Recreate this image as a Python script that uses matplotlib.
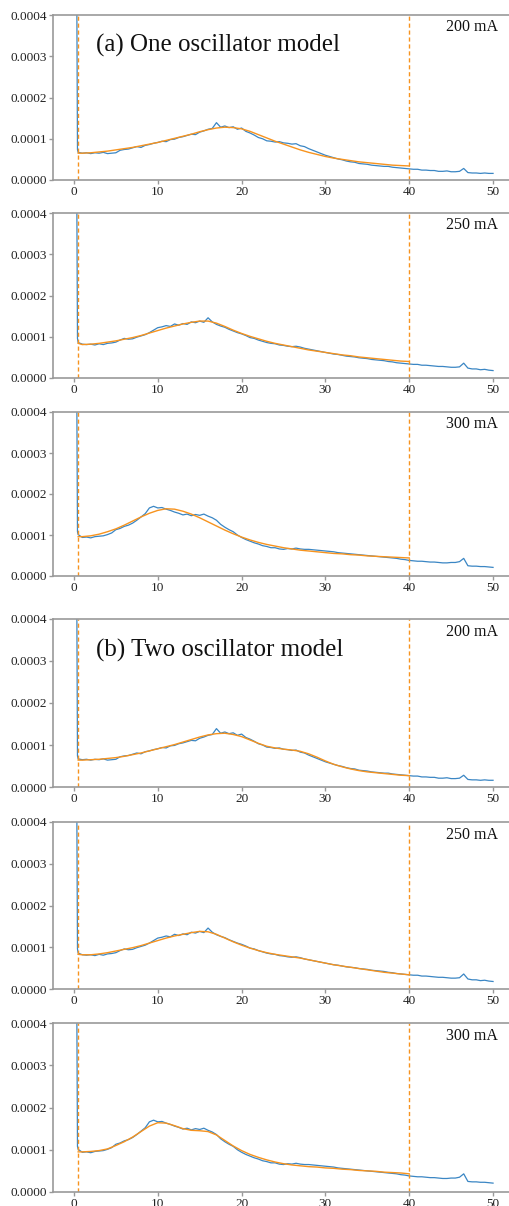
import numpy as np
import matplotlib
matplotlib.use('Agg')
import matplotlib.pyplot as plt
from matplotlib.ticker import FormatStrFormatter

plt.rcParams['font.family'] = ['Liberation Serif', 'DejaVu Serif']

# measured spectra (units of 1e-5), x from 0.5 to 50 in steps of 0.5
x_meas = np.arange(1, 101) * 0.5
# start of the trace: the sharp spike near zero
x_spike = [0.25, 0.35, 0.42]

spike_200 = [80, 40, 7.4]
meas_200 = [6.7, 6.5, 6.6, 6.4, 6.6, 6.5, 6.7, 6.4, 6.5, 6.6,
            7.2, 7.4, 7.5, 7.8, 8.1, 7.9, 8.4, 8.6, 8.9, 9.1,
            9.4, 9.3, 9.8, 9.9, 10.3, 10.5, 10.8, 11.1, 11.0, 11.6,
            11.9, 12.3, 12.5, 13.9, 12.8, 13.1, 12.7, 12.9, 12.3, 12.6,
            11.8, 11.4, 10.9, 10.3, 10.0, 9.5, 9.4, 9.2, 9.3, 9.0,
            8.9, 8.7, 8.8, 8.3, 8.1, 7.6, 7.2, 6.8, 6.4, 6.0,
            5.7, 5.4, 5.1, 4.9, 4.6, 4.4, 4.3, 4.0, 3.9, 3.8,
            3.6, 3.5, 3.4, 3.3, 3.3, 3.1, 3.0, 2.9, 2.8, 2.7,
            2.6, 2.6, 2.4, 2.4, 2.3, 2.3, 2.1, 2.1, 2.2, 2.0,
            2.0, 2.1, 2.8, 1.8, 1.7, 1.7, 1.6, 1.7, 1.6, 1.6]

spike_250 = [80, 40, 9.6]
meas_250 = [8.6, 8.2, 8.1, 8.2, 8.0, 8.3, 8.1, 8.4, 8.5, 8.7,
            9.2, 9.6, 9.4, 9.5, 9.9, 10.2, 10.5, 11.0, 11.6, 12.2,
            12.4, 12.7, 12.5, 13.1, 12.8, 13.2, 13.0, 13.6, 13.4, 13.8,
            13.5, 14.6, 13.6, 13.0, 12.6, 12.3, 11.8, 11.4, 11.0, 10.7,
            10.3, 9.8, 9.6, 9.2, 8.9, 8.6, 8.4, 8.3, 8.0, 7.9,
            7.7, 7.6, 7.7, 7.5, 7.2, 7.0, 6.8, 6.6, 6.4, 6.2,
            6.0, 5.8, 5.7, 5.5, 5.3, 5.2, 5.1, 4.9, 4.8, 4.7,
            4.5, 4.4, 4.3, 4.2, 4.0, 3.9, 3.7, 3.6, 3.5, 3.4,
            3.3, 3.3, 3.1, 3.1, 3.0, 2.9, 2.8, 2.8, 2.7, 2.6,
            2.6, 2.7, 3.6, 2.4, 2.2, 2.2, 2.0, 2.1, 1.9, 1.8]

spike_300 = [80, 40, 10.8]
meas_300 = [10.1, 9.4, 9.5, 9.3, 9.6, 9.7, 9.8, 10.1, 10.5, 11.3,
            11.6, 12.1, 12.4, 12.9, 13.6, 14.4, 15.2, 16.6, 17.0, 16.6,
            16.7, 16.3, 16.0, 15.6, 15.3, 14.9, 15.1, 14.7, 15.0, 14.8,
            15.1, 14.6, 14.2, 13.6, 12.6, 11.9, 11.3, 10.8, 10.0, 9.4,
            8.9, 8.5, 8.1, 7.8, 7.4, 7.2, 6.9, 6.9, 6.6, 6.5,
            6.7, 6.6, 6.8, 6.6, 6.5, 6.5, 6.4, 6.3, 6.2, 6.1,
            6.0, 5.9, 5.7, 5.6, 5.5, 5.4, 5.3, 5.2, 5.1, 5.0,
            4.9, 4.8, 4.7, 4.6, 4.5, 4.4, 4.3, 4.1, 4.0, 3.8,
            3.7, 3.6, 3.6, 3.5, 3.4, 3.4, 3.3, 3.2, 3.2, 3.3,
            3.3, 3.5, 4.3, 2.5, 2.4, 2.4, 2.3, 2.3, 2.2, 2.1]

# fitted curves (units of 1e-5), x from 0.5 to 40
x_fit = [0.5] + list(range(1, 41))

fit1_200 = [6.5, 6.5, 6.6, 6.8, 7.0, 7.3, 7.6, 7.9, 8.3, 8.7, 9.1,
            9.6, 10.1, 10.6, 11.1, 11.7, 12.2, 12.6, 12.8, 12.7, 12.4,
            11.8, 11.0, 10.2, 9.4, 8.7, 8.0, 7.3, 6.7, 6.2, 5.7,
            5.3, 5.0, 4.7, 4.4, 4.2, 4.0, 3.8, 3.6, 3.5, 3.4]
fit1_250 = [8.4, 8.1, 8.2, 8.4, 8.7, 9.0, 9.4, 9.8, 10.3, 10.9, 11.5,
            12.1, 12.6, 13.1, 13.5, 13.8, 13.8, 13.3, 12.5, 11.6, 10.8,
            10.1, 9.5, 8.9, 8.4, 8.0, 7.6, 7.2, 6.8, 6.5, 6.2,
            5.9, 5.6, 5.4, 5.1, 4.9, 4.7, 4.5, 4.3, 4.1, 4.0]
fit1_300 = [9.6, 9.6, 9.8, 10.2, 10.8, 11.5, 12.4, 13.4, 14.4, 15.3, 16.0,
            16.4, 16.3, 15.8, 15.1, 14.2, 13.2, 12.2, 11.2, 10.3, 9.5,
            8.8, 8.2, 7.7, 7.3, 6.9, 6.6, 6.3, 6.1, 5.9, 5.7,
            5.5, 5.4, 5.2, 5.1, 4.9, 4.8, 4.7, 4.6, 4.5, 4.4]
fit2_200 = [6.4, 6.4, 6.5, 6.6, 6.8, 7.0, 7.3, 7.7, 8.1, 8.6, 9.1,
            9.6, 10.1, 10.7, 11.3, 11.9, 12.4, 12.7, 12.8, 12.5, 12.0,
            11.2, 10.4, 9.7, 9.3, 9.0, 8.8, 8.5, 7.9, 7.1, 6.2,
            5.4, 4.8, 4.3, 3.9, 3.6, 3.4, 3.2, 3.0, 2.8, 2.7]
fit2_250 = [8.3, 8.2, 8.2, 8.4, 8.7, 9.1, 9.5, 9.9, 10.4, 11.0, 11.6,
            12.2, 12.7, 13.1, 13.5, 13.8, 13.7, 13.1, 12.2, 11.3, 10.5,
            9.8, 9.2, 8.7, 8.3, 8.0, 7.7, 7.4, 7.0, 6.6, 6.2,
            5.8, 5.5, 5.2, 4.9, 4.6, 4.3, 4.0, 3.8, 3.6, 3.4]
fit2_300 = [9.5, 9.5, 9.6, 9.8, 10.2, 11.0, 11.9, 13.0, 14.3, 15.6, 16.4,
            16.3, 15.7, 15.0, 14.6, 14.5, 14.3, 13.5, 12.2, 10.9, 9.8,
            8.9, 8.2, 7.6, 7.1, 6.7, 6.4, 6.2, 6.0, 5.9, 5.7,
            5.6, 5.4, 5.3, 5.1, 5.0, 4.9, 4.7, 4.6, 4.5, 4.3]

fit_range = [0.45, 40]
currents = ['200 mA', '250 mA', '300 mA']
titles = ['(a) One oscillator model', '(b) Two oscillator model']

panels = [
    (spike_200, meas_200, fit1_200, currents[0], titles[0]),
    (spike_250, meas_250, fit1_250, currents[1], None),
    (spike_300, meas_300, fit1_300, currents[2], None),
    (spike_200, meas_200, fit2_200, currents[0], titles[1]),
    (spike_250, meas_250, fit2_250, currents[1], None),
    (spike_300, meas_300, fit2_300, currents[2], None),
]

# pixel rows (top, bottom) of each panel in a 509x1206 canvas
rows = [(15, 180), (213, 378), (412, 576), (619, 787), (822, 989), (1023, 1192)]

W, H = 509, 1206
fig = plt.figure(figsize=(W / 100, H / 100), dpi=100)
spine_col = '#999999'

for (spike, meas, fit, cur, title), (top, bot) in zip(panels, rows):
    ax = fig.add_axes([53 / W, 1 - bot / H, (514 - 53) / W, (bot - top) / H])
    xs = list(x_spike) + list(x_meas)
    ys = (np.array(list(spike) + list(meas))) * 1e-5
    ax.plot(xs, ys, color='#3a86c4', lw=0.9)
    ax.plot(x_fit, np.array(fit) * 1e-5, color='#f7931e', lw=1.0)
    for xv in fit_range:
        ax.axvline(xv, color='#f7931e', ls='--', lw=1.0, dashes=(3, 2))
    ax.set_xlim(-2.5, 52.5)
    ax.set_ylim(0, 0.0004)
    ax.set_yticks([0, 0.0001, 0.0002, 0.0003, 0.0004])
    ax.set_xticks([0, 10, 20, 30, 40, 50])
    ax.yaxis.set_major_formatter(FormatStrFormatter('%.4f'))
    for s in ax.spines.values():
        s.set_color(spine_col)
        s.set_linewidth(1.2)
    ax.tick_params(colors=spine_col, labelcolor='#222222', labelsize=9.5,
                   length=3, width=1, pad=1.5)
    ax.text(50.6, 0.00037, cur, ha='right', va='center', fontsize=11.5,
            color='#111111')
    if title:
        ax.text(2.6, 0.000325, title, ha='left', va='center', fontsize=18,
                color='#111111')

fig.savefig('out.png', dpi=100)
